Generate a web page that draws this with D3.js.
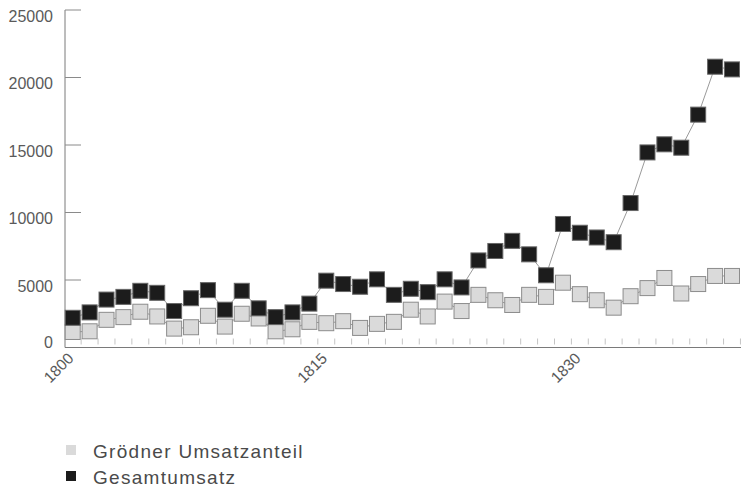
<!DOCTYPE html>
<html>
<head>
<meta charset="utf-8">
<script src="https://cdn.jsdelivr.net/npm/d3@7"></script>
<style>
  body { margin: 0; background: #fff; }
  text { font-family: "Liberation Sans", Arial, sans-serif; }
</style>
</head>
<body>
<div id="chart"></div>
<script>
// years 1800 - 1839
var years = [];
for (var yr = 1800; yr <= 1839; yr++) years.push(yr);

var gesamtumsatz = [2200, 2600, 3550, 3750, 4200, 4050, 2700, 3650, 4250, 2800,
                    4200, 2900, 2250, 2600, 3250, 4950, 4700, 4500, 5050, 3900,
                    4350, 4100, 5050, 4450, 6450, 7150, 7900, 6900, 5350, 9150,
                    8500, 8150, 7800, 10700, 14450, 15050, 14800, 17250, 20800, 20600];

var groednerAnteil = [1150, 1200, 2050, 2250, 2650, 2300, 1400, 1500, 2350, 1550,
                      2500, 2150, 1200, 1350, 1900, 1800, 1950, 1450, 1750, 1900,
                      2800, 2300, 3400, 2700, 3900, 3500, 3150, 3900, 3750, 4800,
                      3950, 3500, 2950, 3800, 4400, 5150, 4000, 4700, 5300, 5300];

var yTicks = [0, 5000, 10000, 15000, 20000, 25000];
var xLabels = [1800, 1815, 1830];

var seriesNames = ["Grödner Umsatzanteil", "Gesamtumsatz"];

var width = 742, height = 490;
var axisX = 65, axisY = 347.5, topY = 10;
var box = 15;

var svg = d3.select("#chart").append("svg")
    .attr("width", width)
    .attr("height", height);

var x = d3.scaleLinear()
    .domain([1800, 1839])
    .range([72.7, 732]);

var y = d3.scaleLinear()
    .domain([0, 25000])
    .range([axisY, topY]);

var step = x(1801) - x(1800);

// y axis
svg.append("line")
    .attr("x1", axisX).attr("x2", axisX)
    .attr("y1", topY).attr("y2", axisY)
    .attr("stroke", "#7a7a7a")
    .attr("stroke-width", 1);

svg.selectAll(".ytick")
    .data(yTicks.slice(1))
    .enter().append("line")
    .attr("class", "ytick")
    .attr("x1", axisX).attr("x2", axisX + 16)
    .attr("y1", function (d) { return y(d); })
    .attr("y2", function (d) { return y(d); })
    .attr("stroke", "#8a8a8a");

svg.selectAll(".ylabel")
    .data(yTicks)
    .enter().append("text")
    .attr("class", "ylabel")
    .attr("x", 53)
    .attr("y", function (d) { return d === 0 ? y(d) - 5 : y(d) + 6; })
    .attr("dy", "0.35em")
    .attr("text-anchor", "end")
    .style("font-size", "16px")
    .style("fill", "#5a5a5a")
    .text(function (d) { return d; });

// x axis
svg.append("line")
    .attr("x1", axisX).attr("x2", 741)
    .attr("y1", axisY).attr("y2", axisY)
    .attr("stroke", "#7a7a7a");

svg.selectAll(".xtick")
    .data(years)
    .enter().append("line")
    .attr("class", "xtick")
    .attr("x1", function (d) { return x(d) + step / 2; })
    .attr("x2", function (d) { return x(d) + step / 2; })
    .attr("y1", axisY - 9).attr("y2", axisY - 3)
    .attr("stroke", "#c4c4c4");

svg.selectAll(".xlabel")
    .data(xLabels)
    .enter().append("text")
    .attr("class", "xlabel")
    .attr("text-anchor", "end")
    .attr("transform", function (d) {
        return "translate(" + (x(d) - 2) + "," + (axisY + 8) + ") rotate(-45)";
    })
    .attr("dy", "0.35em")
    .style("font-size", "15.5px")
    .style("fill", "#5a5a5a")
    .text(function (d) { return d; });

// lines
var line = d3.line()
    .x(function (d, i) { return x(years[i]); })
    .y(function (d) { return y(d); });

svg.append("path")
    .datum(groednerAnteil)
    .attr("d", line)
    .attr("fill", "none")
    .attr("stroke", "#9a9a9a")
    .attr("stroke-width", 1);

svg.append("path")
    .datum(gesamtumsatz)
    .attr("d", line)
    .attr("fill", "none")
    .attr("stroke", "#9a9a9a")
    .attr("stroke-width", 1);

// markers
svg.selectAll(".grey")
    .data(groednerAnteil)
    .enter().append("rect")
    .attr("class", "grey")
    .attr("x", function (d, i) { return x(years[i]) - box / 2; })
    .attr("y", function (d) { return y(d) - box / 2; })
    .attr("width", box)
    .attr("height", box)
    .attr("fill", "#dadada")
    .attr("stroke", "#8c8c8c")
    .attr("stroke-width", 1);

svg.selectAll(".black")
    .data(gesamtumsatz)
    .enter().append("rect")
    .attr("class", "black")
    .attr("x", function (d, i) { return x(years[i]) - box / 2; })
    .attr("y", function (d) { return y(d) - box / 2; })
    .attr("width", box)
    .attr("height", box)
    .attr("fill", "#1c1c1c")
    .attr("stroke", "#666")
    .attr("stroke-width", 1);

// legend
var legend = svg.selectAll(".legend")
    .data(seriesNames)
    .enter().append("g")
    .attr("class", "legend")
    .attr("transform", function (d, i) { return "translate(66," + (445 + i * 26) + ")"; });

legend.append("rect")
    .attr("width", 10)
    .attr("height", 10)
    .attr("fill", function (d, i) { return i === 0 ? "#dadada" : "#1c1c1c"; });

legend.append("text")
    .attr("x", 27)
    .attr("y", 6)
    .attr("dy", "0.35em")
    .style("font-size", "19px")
    .style("letter-spacing", "1.3px")
    .style("fill", "#4a4a4a")
    .text(function (d) { return d; });
</script>
</body>
</html>
